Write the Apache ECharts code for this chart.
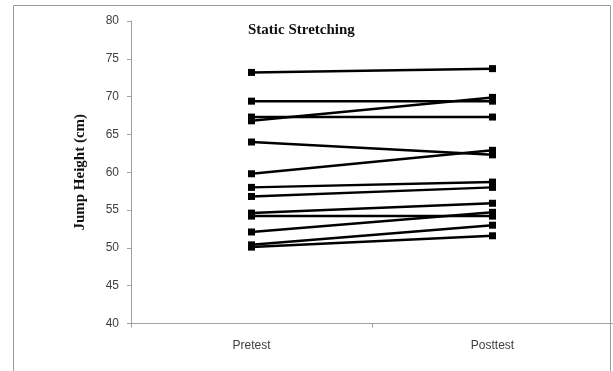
<!DOCTYPE html>
<html>
<head>
<meta charset="utf-8">
<script src="https://cdn.jsdelivr.net/npm/echarts@6/dist/echarts.min.js"></script>
<style>html,body{margin:0;padding:0;background:#fff}#c{width:613px;height:371px}</style>
</head>
<body>
<div id="c"></div>
<script>
const categories = ['Pretest', 'Posttest'];
const pretest  = [73.2, 69.4, 67.3, 66.8, 64.0, 59.8, 58.0, 56.8, 54.6, 54.2, 52.1, 50.4, 50.1];
const posttest = [73.7, 69.4, 67.3, 69.9, 62.3, 62.9, 58.7, 58.0, 55.9, 54.2, 54.7, 53.0, 51.6];
const yTicks = [40, 45, 50, 55, 60, 65, 70, 75, 80];

const chart = echarts.init(document.getElementById('c'), null, {renderer: 'canvas'});
const series = pretest.map((v, i) => ({
  type: 'line',
  data: [v, posttest[i]],
  symbol: 'rect',
  symbolSize: 7,
  lineStyle: {color: '#000', width: 2.5},
  itemStyle: {color: '#000'},
  animation: false,
  silent: true
}));
chart.setOption({
  animation: false,
  title: {
    text: 'Static Stretching',
    left: 243, top: 18,
    textStyle: {fontFamily: 'Liberation Serif', fontWeight: 'bold', fontSize: 15, color: '#111'}
  },
  graphic: [{
    type: 'rect', shape: {x: 13.5, y: 5.5, width: 597, height: 420},
    style: {fill: 'none', stroke: '#9a9a9a', lineWidth: 1}, silent: true
  }],
  grid: {left: 131, top: 21, width: 484, height: 302.5, containLabel: false},
  xAxis: {
    type: 'category', data: categories, boundaryGap: true,
    axisLine: {lineStyle: {color: '#a0a0a0', width: 1}},
    axisTick: {show: true, length: 4, lineStyle: {color: '#a0a0a0'}},
    axisLabel: {color: '#404040', fontFamily: 'Liberation Sans', fontSize: 12, margin: 16}
  },
  yAxis: {
    type: 'value', min: yTicks[0], max: yTicks[yTicks.length - 1], interval: yTicks[1] - yTicks[0],
    name: 'Jump Height (cm)', nameLocation: 'middle', nameGap: 43, nameRotate: 90,
    nameTextStyle: {fontFamily: 'Liberation Serif', fontWeight: 'bold', fontSize: 15, color: '#111'},
    axisLine: {show: true, lineStyle: {color: '#a0a0a0', width: 1}},
    axisTick: {show: true, length: 4, lineStyle: {color: '#a0a0a0'}},
    splitLine: {show: false},
    axisLabel: {color: '#404040', fontFamily: 'Liberation Sans', fontSize: 12, margin: 12}
  },
  series: series
});
</script>
</body>
</html>
